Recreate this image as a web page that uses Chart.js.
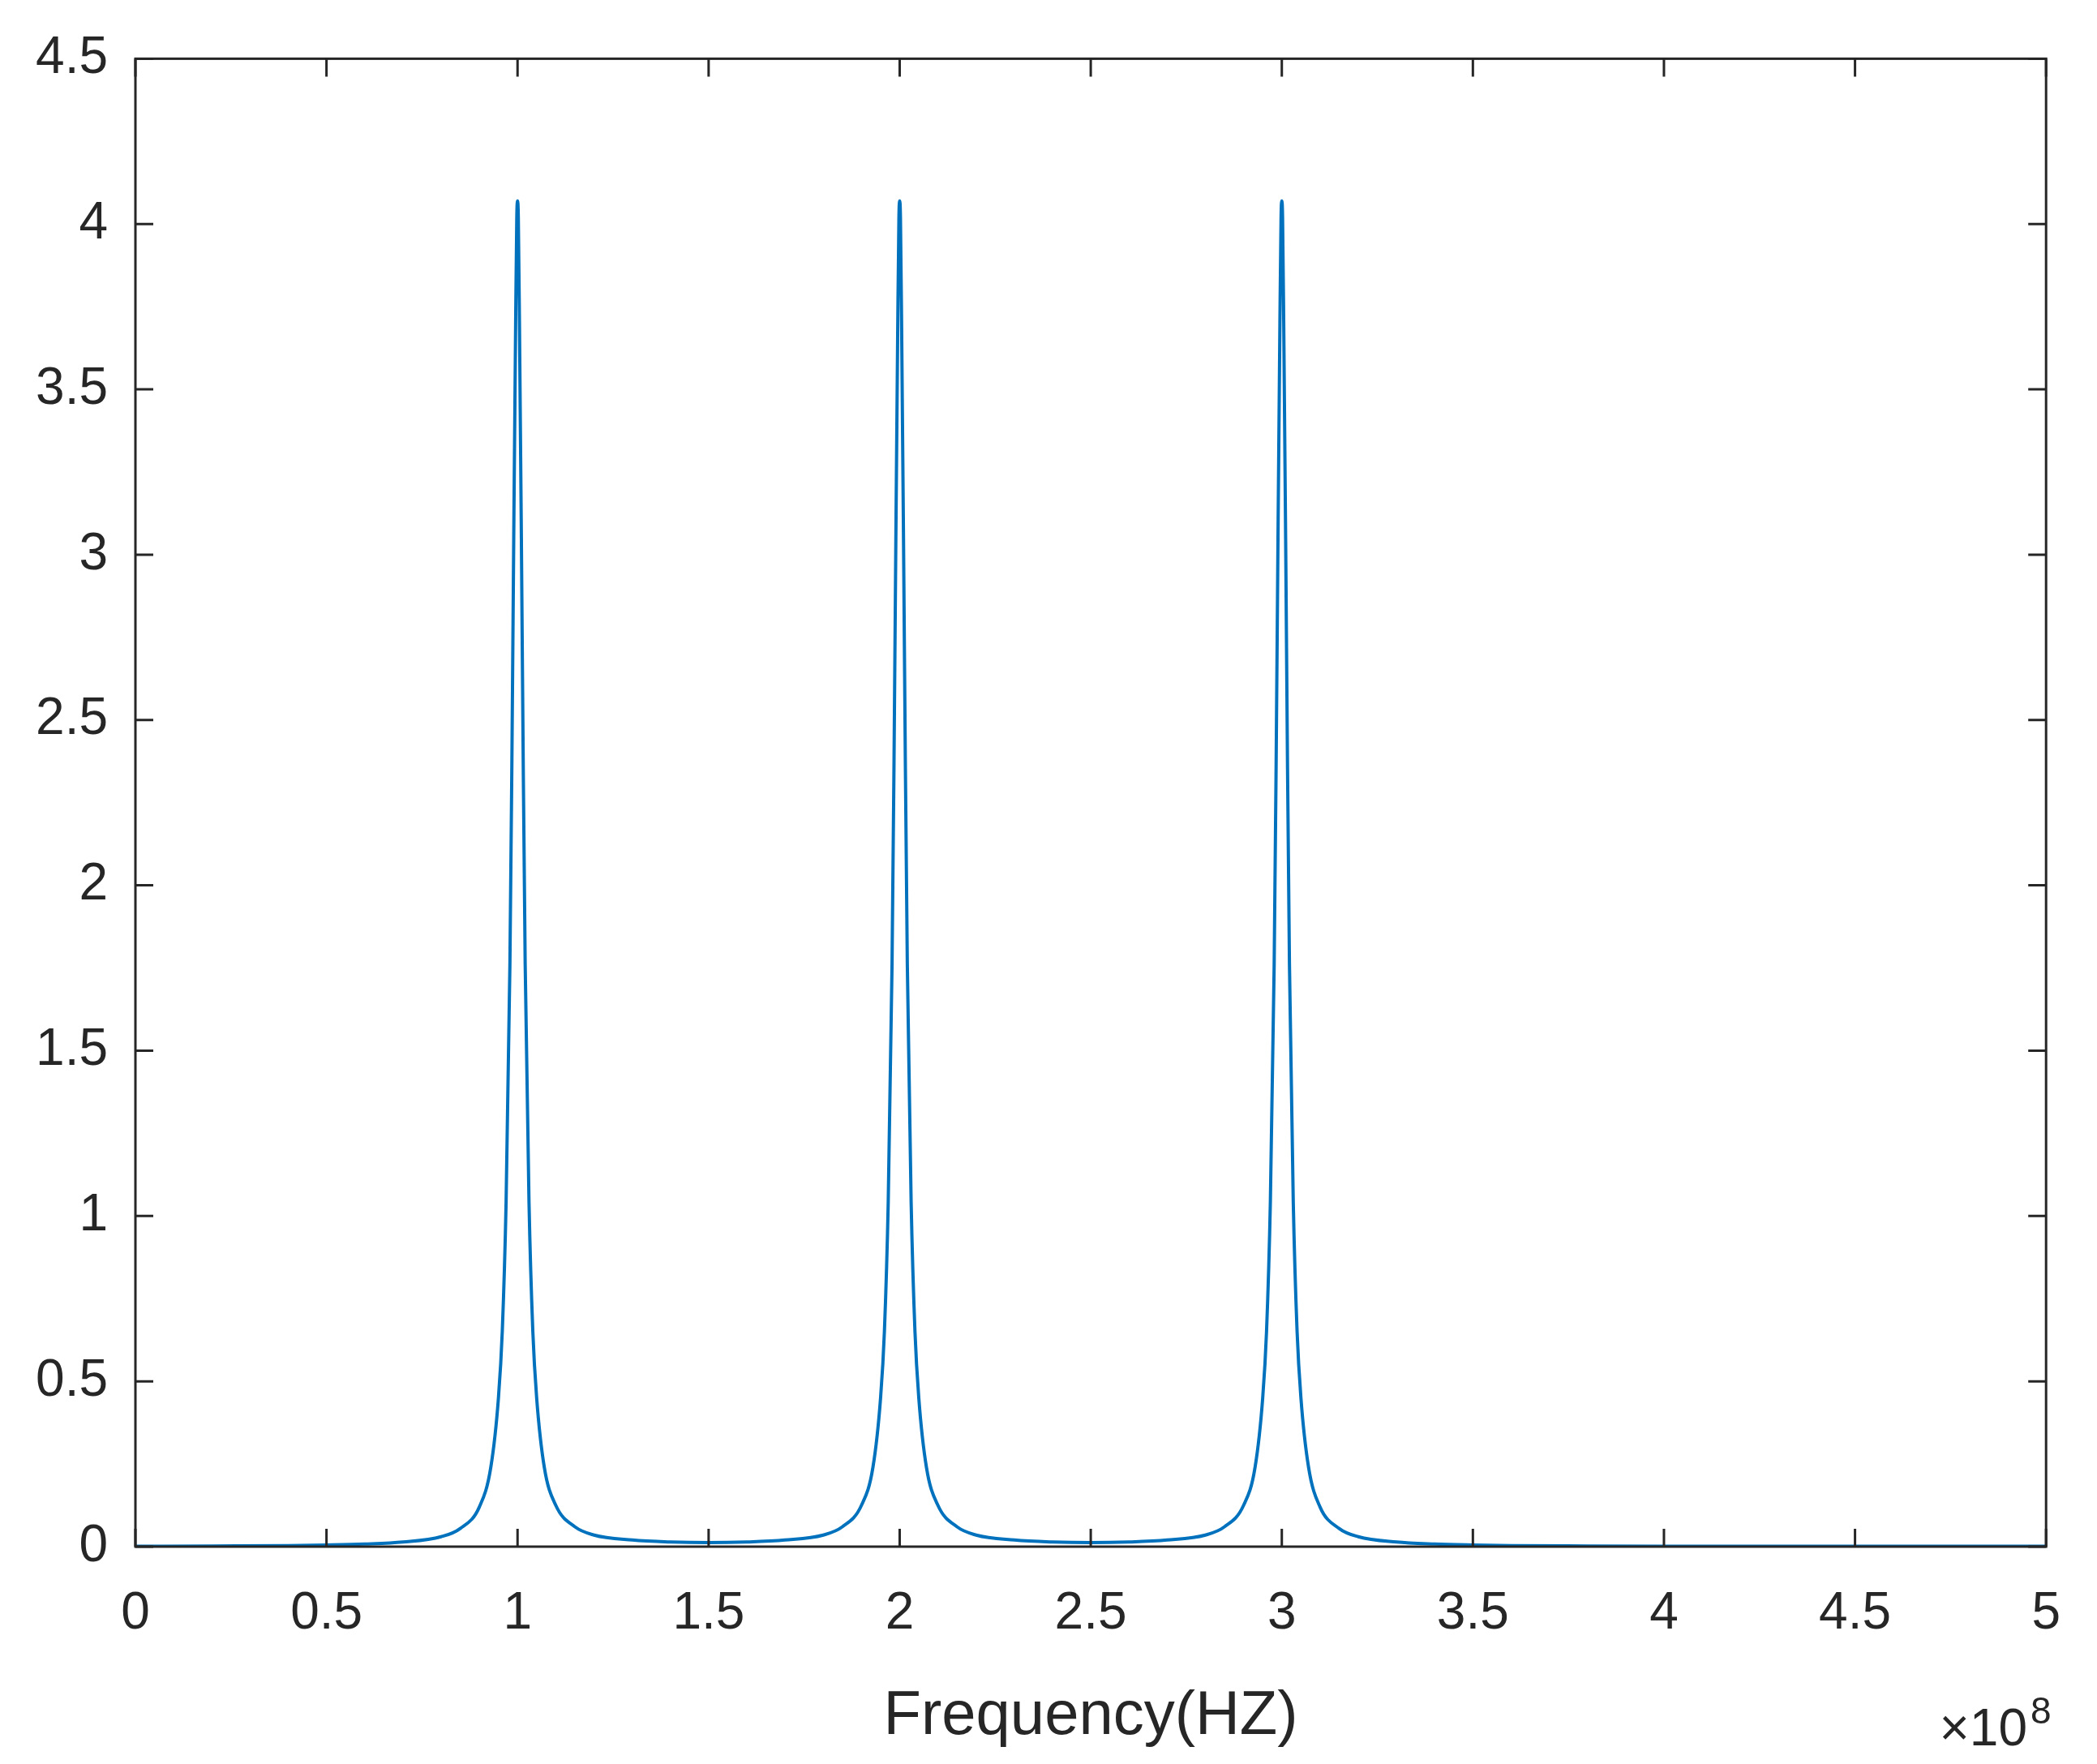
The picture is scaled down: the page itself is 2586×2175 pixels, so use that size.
<!DOCTYPE html>
<html><head><meta charset="utf-8">
<script src="https://cdn.jsdelivr.net/npm/chart.js@4/dist/chart.umd.min.js"></script>
<style>html,body{margin:0;padding:0;background:#fff}#w{width:2586px;height:2175px}</style>
</head><body><div id="w"><canvas id="c"></canvas></div>
<script>
const freqX = [0,0.2,0.4,0.5,0.6,0.7,0.8,0.85,0.9,0.93,0.95,0.96,0.97,0.98,0.985,0.99,0.995,0.998,1.0,
1.002,1.005,1.01,1.015,1.02,1.03,1.04,1.05,1.07,1.1,1.15,1.2,1.3,1.4,1.5,1.6,1.7,1.8,1.85,1.9,1.93,1.95,1.96,1.97,1.98,1.985,1.99,1.995,1.998,2.0,
2.002,2.005,2.01,2.015,2.02,2.03,2.04,2.05,2.07,2.1,2.15,2.2,2.3,2.4,2.5,2.6,2.7,2.8,2.85,2.9,2.93,2.95,2.96,2.97,2.98,2.985,2.99,2.995,2.998,3.0,
3.002,3.005,3.01,3.015,3.02,3.03,3.04,3.05,3.07,3.1,3.15,3.2,3.3,3.4,3.5,3.6,3.8,4.0,4.5,5.0];
const amplitude = [0.001,0.002,0.003,0.005,0.008,0.014,0.03,0.055,0.12,0.24,0.45,0.65,1.04,1.76,2.35,3.05,3.7,4.02,4.07,
4.02,3.7,3.05,2.35,1.76,1.04,0.65,0.45,0.24,0.125,0.06,0.035,0.02,0.014,0.012,0.014,0.02,0.035,0.06,0.125,0.24,0.45,0.65,1.04,1.76,2.35,3.05,3.7,4.02,4.07,
4.02,3.7,3.05,2.35,1.76,1.04,0.65,0.45,0.24,0.125,0.06,0.035,0.02,0.014,0.012,0.014,0.02,0.035,0.06,0.125,0.24,0.45,0.65,1.04,1.76,2.35,3.05,3.7,4.02,4.07,
4.02,3.7,3.05,2.35,1.76,1.04,0.65,0.45,0.24,0.12,0.055,0.03,0.014,0.008,0.005,0.003,0.002,0.0015,0.001,0.001];
const xTicks = [0,0.5,1,1.5,2,2.5,3,3.5,4,4.5,5];
const yTicks = [0,0.5,1,1.5,2,2.5,3,3.5,4,4.5];
const xTitle = 'Frequency(HZ)';

const AX = '#262626', FONT = '"Liberation Sans", Arial, sans-serif';
const boxPlugin = {
  id:'box',
  afterDraw(ch){
    const {ctx, chartArea:a, scales:{x,y}} = ch;
    ctx.save();
    ctx.strokeStyle = AX; ctx.lineWidth = 3;
    ctx.strokeRect(a.left, a.top, a.right-a.left, a.bottom-a.top);
    const L = 22;
    ctx.beginPath();
    xTicks.forEach(v=>{const p=x.getPixelForValue(v);
      ctx.moveTo(p,a.bottom);ctx.lineTo(p,a.bottom-L);ctx.moveTo(p,a.top);ctx.lineTo(p,a.top+L);});
    yTicks.forEach(v=>{const p=y.getPixelForValue(v);
      ctx.moveTo(a.left,p);ctx.lineTo(a.left+L,p);ctx.moveTo(a.right,p);ctx.lineTo(a.right-L,p);});
    ctx.stroke();
    ctx.fillStyle = AX;
    ctx.font = '76px '+FONT; ctx.textAlign='center'; ctx.textBaseline='middle';
    ctx.fillText(xTitle, (a.left+a.right)/2, 2117);
    ctx.font = '64px '+FONT; ctx.textAlign='right'; ctx.textBaseline='alphabetic';
    ctx.fillText('×10', 2500, 2152);
    ctx.font = '46px '+FONT; ctx.textAlign='left';
    ctx.fillText('8', 2504, 2125);
    ctx.restore();
  }
};
new Chart(document.getElementById('c'), {
  type:'line',
  data:{datasets:[{data:freqX.map((v,i)=>({x:v,y:amplitude[i]})),borderColor:'#0072BD',borderWidth:4,pointRadius:0,cubicInterpolationMode:'monotone'}]},
  options:{
    responsive:true, maintainAspectRatio:false, animation:false,
    layout:{padding:{left:0,top:27,right:37,bottom:0}},
    plugins:{legend:{display:false},tooltip:{enabled:false}},
    scales:{
      x:{type:'linear',min:0,max:5,
        afterBuildTicks(s){s.ticks=xTicks.map(v=>({value:v}));},
        afterFit(s){s.height=268;},
        grid:{display:false,drawTicks:false},border:{display:false},
        ticks:{padding:45,color:AX,font:{family:FONT,size:64},maxRotation:0,autoSkip:false,callback:v=>String(v)}},
      y:{min:0,max:4.5,
        afterBuildTicks(s){s.ticks=yTicks.map(v=>({value:v}));},
        afterFit(s){s.width=167;},
        grid:{display:false,drawTicks:false},border:{display:false},
        ticks:{padding:34,color:AX,font:{family:FONT,size:64},autoSkip:false,callback:v=>String(v)}}
    }
  },
  plugins:[boxPlugin]
});
</script></body></html>
